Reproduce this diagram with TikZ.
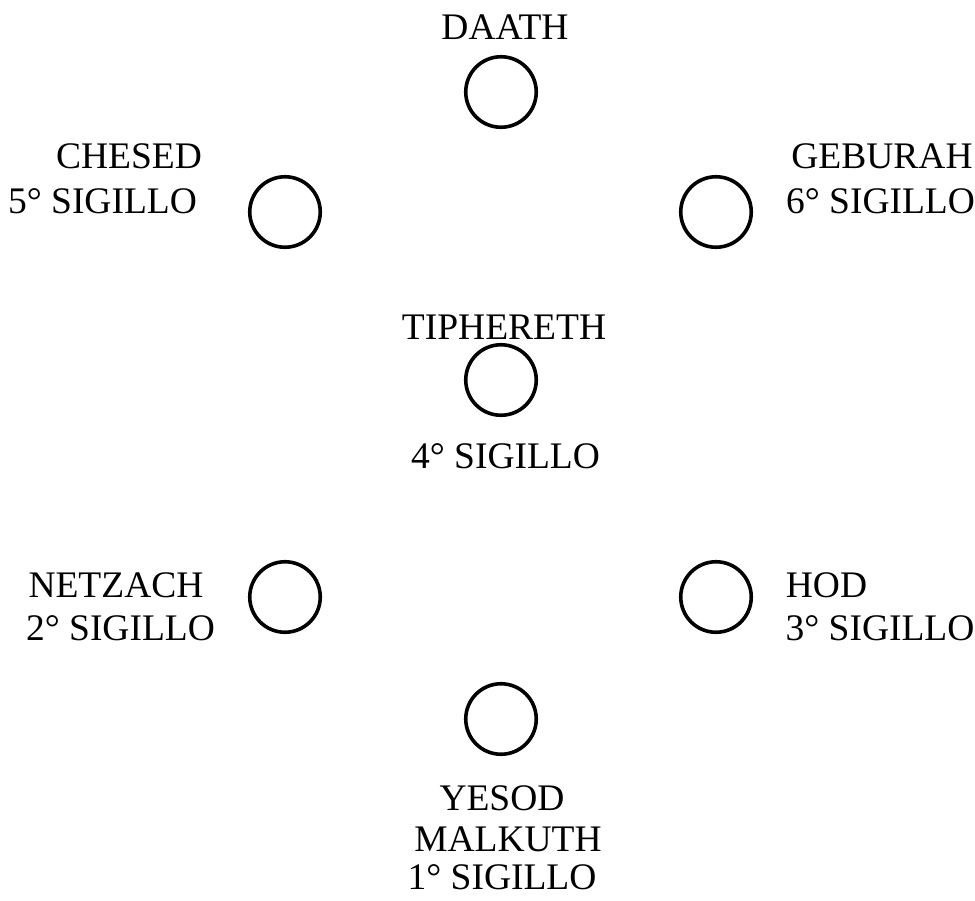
\documentclass[tikz,border=0pt]{standalone}
\usepackage{fontspec}
\setmainfont{Liberation Serif}
\begin{document}
\begin{tikzpicture}[x=1pt,y=-1pt,
  sefira/.style={draw=black,circle,line width=3.6pt,minimum size=70.5pt,inner sep=0pt},
  lbl/.style={anchor=base,inner sep=0pt,text depth=0pt,font=\fontsize{37.5}{44}\selectfont}]
\useasboundingbox (0,0) rectangle (975,900);
% circles
\node[sefira] (daath) at (501,92) {};
\node[sefira] (chesed) at (285,212) {};
\node[sefira] (geburah) at (716,212) {};
\node[sefira] (tiphereth) at (501,380) {};
\node[sefira] (netzach) at (285,597) {};
\node[sefira] (hod) at (716,597) {};
\node[sefira] (yesod) at (501,719) {};
% labels
\node[lbl] (tdaath) at (505,39) {DAATH};
\node[lbl] (tchesed) at (129,168) {CHESED};
\node[lbl] (schesed) at (102.5,213) {5° SIGILLO};
\node[lbl] (tgeburah) at (882,168) {GEBURAH};
\node[lbl] (sgeburah) at (880.5,213) {6° SIGILLO};
\node[lbl] (ttiph) at (504,339) {TIPHERETH};
\node[lbl] (stiph) at (505.5,468) {4° SIGILLO};
\node[lbl] (tnetz) at (116,597) {NETZACH};
\node[lbl] (snetz) at (120.5,640) {2° SIGILLO};
\node[lbl] (thod) at (826.5,597) {HOD};
\node[lbl] (shod) at (880,640) {3° SIGILLO};
\node[lbl] (tyesod) at (502,810) {YESOD};
\node[lbl] (tmalk) at (508,851) {MALKUTH};
\node[lbl] (syesod) at (502,889) {1° SIGILLO};
\end{tikzpicture}
\end{document}
